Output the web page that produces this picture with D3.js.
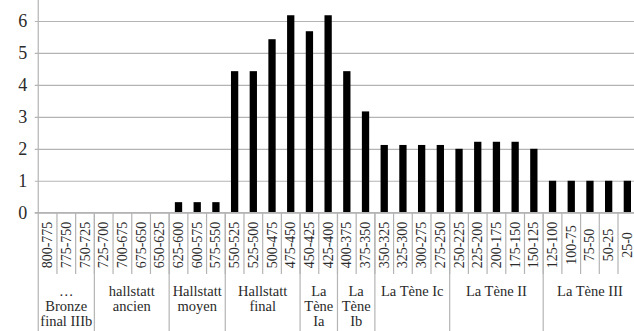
<!DOCTYPE html>
<html>
<head>
<meta charset="utf-8">
<script src="https://cdn.jsdelivr.net/npm/d3@7"></script>
<style>
  html, body { margin: 0; padding: 0; background: #fff; }
  svg { display: block; }
</style>
</head>
<body>
<svg id="chart" width="634" height="331"></svg>
<script>
const categories = ["800-775","775-750","750-725","725-700","700-675","675-650","650-625",
  "625-600","600-575","575-550","550-525","525-500","500-475","475-450","450-425","425-400",
  "400-375","375-350","350-325","325-300","300-275","275-250","250-225","225-200","200-175",
  "175-150","150-125","125-100","100-75","75-50","50-25","25-0"];
const values = [0,0,0,0,0,0,0,
  0.33,0.33,0.33,4.43,4.43,5.43,6.18,5.68,6.18,
  4.43,3.17,2.12,2.12,2.12,2.12,2.0,2.22,2.22,
  2.22,2.0,1,1,1,1,1];
const groupLabels = [["…","Bronze","final IIIb"],["hallstatt","ancien"],["Hallstatt","moyen"],
  ["Hallstatt","final"],["La","Tène","Ia"],["La","Tène","Ib"],["La Tène Ic"],["La Tène II"],["La Tène III"]];
const groupSizes = [3,4,3,4,2,2,4,5,5];
const yTicks = [0,1,2,3,4,5,6];

const FONT = '"Liberation Serif"';
const svg = d3.select("#chart");
const x0 = 38.25, x1 = 636.7, yBase = 212.7, yTop = -10.95;
const grid = "#b4b4b4";
const ink = "#2a2a2a";

const x = d3.scaleBand().domain(categories).range([x0, x1]).paddingInner(0.61).paddingOuter(0.305);
const band = (x1 - x0) / categories.length;
const y = d3.scaleLinear().domain([0, 7]).range([yBase, yTop]);

// gridlines + y axis
const yAxis = d3.axisLeft(y).tickValues(yTicks).tickSize(-(x1 - x0)).tickPadding(11).tickFormat(d3.format("d"));
const gy = svg.append("g").attr("transform", `translate(${x0},0)`).call(yAxis);
gy.select(".domain").remove();
gy.selectAll(".tick line").attr("stroke", grid).attr("stroke-width", 1.2).attr("x1", -3.5);
gy.selectAll(".tick text").style("font-family", FONT).style("font-size", "18px").attr("fill", ink);

// vertical y axis line extending to bottom
svg.append("line").attr("x1", x0).attr("x2", x0).attr("y1", 0).attr("y2", 331)
  .attr("stroke", grid).attr("stroke-width", 1.2);

// bars
svg.append("g").selectAll("rect").data(categories).join("rect")
  .attr("x", d => x(d))
  .attr("width", x.bandwidth())
  .attr("y", (d, i) => y(values[i]))
  .attr("height", (d, i) => yBase - y(values[i]))
  .attr("fill", "#000");

// category separators
const catLines = d3.range(1, categories.length);
svg.append("g").selectAll("line").data(catLines).join("line")
  .attr("x1", i => x0 + i * band).attr("x2", i => x0 + i * band)
  .attr("y1", yBase).attr("y2", 274)
  .attr("stroke", grid).attr("stroke-width", 1.2);

// category labels (rotated)
svg.append("g").selectAll("text").data(categories).join("text")
  .attr("transform", d => `translate(${x(d) + x.bandwidth() / 2},245) rotate(-90)`)
  .attr("text-anchor", "middle")
  .attr("dominant-baseline", "central")
  .style("font-family", FONT).style("font-size", "14px").attr("fill", ink)
  .text(d => d);

// group separators + labels
let start = 0;
const groups = groupSizes.map((n, i) => { const g = {start, n, lines: groupLabels[i]}; start += n; return g; });
svg.append("g").selectAll("line").data(groups.slice(1)).join("line")
  .attr("x1", g => x0 + g.start * band).attr("x2", g => x0 + g.start * band)
  .attr("y1", yBase).attr("y2", 331)
  .attr("stroke", grid).attr("stroke-width", 1.2);

const gl = svg.append("g").selectAll("text").data(groups).join("text")
  .attr("text-anchor", "middle")
  .style("font-family", FONT).style("font-size", "14.5px").attr("fill", ink)
  .attr("x", g => x0 + (g.start + g.n / 2) * band);
gl.selectAll("tspan").data(g => g.lines.map(t => ({t, cx: x0 + (g.start + g.n / 2) * band}))).join("tspan")
  .attr("x", d => d.cx)
  .attr("y", (d, i) => 295.5 + i * 15.4)
  .text(d => d.t);

// baseline axis line
svg.append("line").attr("x1", x0 - 3.5).attr("x2", x1).attr("y1", yBase).attr("y2", yBase)
  .attr("stroke", grid).attr("stroke-width", 1.2);
</script>
</body>
</html>
